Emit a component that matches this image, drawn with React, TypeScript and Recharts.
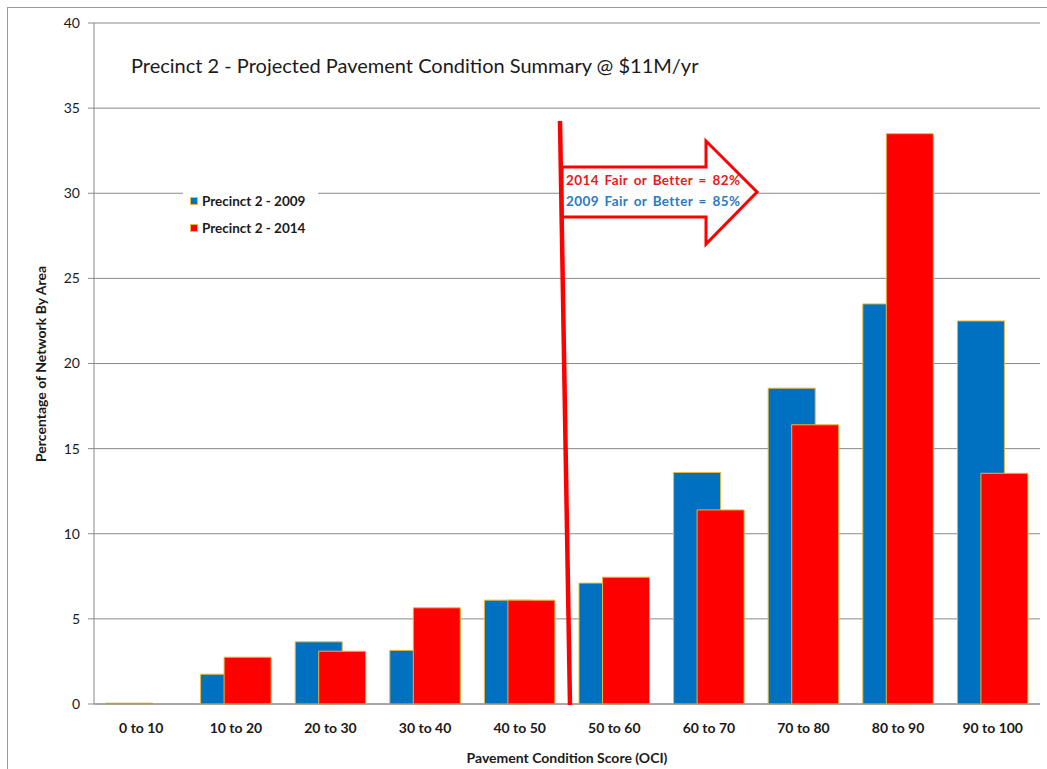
import React from 'react';
import { BarChart, Bar, XAxis, YAxis, CartesianGrid, Legend } from 'recharts';

const categories = ['0 to 10', '10 to 20', '20 to 30', '30 to 40', '40 to 50', '50 to 60', '60 to 70', '70 to 80', '80 to 90', '90 to 100'];
const precinct2009 = [0.05, 1.75, 3.65, 3.15, 6.1, 7.1, 13.6, 18.55, 23.5, 22.5];
const precinct2014 = [0, 2.75, 3.1, 5.65, 6.1, 7.45, 11.4, 16.4, 33.5, 13.55];
const yTicks = [0, 5, 10, 15, 20, 25, 30, 35, 40];
const boundaryTicks = [0, 1, 2, 3, 4, 5, 6, 7, 8, 9, 10];

const seriesNames = { y2009: 'Precinct 2 - 2009', y2014: 'Precinct 2 - 2014' };
const titleText = 'Precinct 2 - Projected Pavement Condition Summary @ $11M/yr';
const note2014 = '2014 Fair or Better = 82%';
const note2009 = '2009 Fair or Better = 85%';

const data = categories.map((c, i) => ({ category: c, y2009: precinct2009[i], y2014: precinct2014[i] }));

const FONT = 'Lato, "Open Sans", sans-serif';
const BLUE = '#0070C0';
const RED = '#FF0000';
const EDGE = '#E8B838';
const AXIS = '#8A8A8A';

const LegendBox = (props: any) => {
  const payload = props.payload || [];
  return (
    <div style={{ background: '#fff', padding: '1px 0 4px 7px', fontFamily: FONT, fontWeight: 700, fontSize: 13.5, color: '#1a1a1a' }}>
      {payload.map((p: any) => (
        <div key={p.value} style={{ display: 'flex', alignItems: 'center', height: 27 }}>
          <span style={{ display: 'inline-block', width: 6, height: 6, background: p.color, border: `1px solid ${EDGE}`, marginRight: 4 }} />
          <span>{p.value}</span>
        </div>
      ))}
    </div>
  );
};

const EmptyTick = () => <g />;

export default function App() {
  return (
    <div style={{ position: 'absolute', left: 0, top: 0, width: 1047, height: 769, background: '#fff' }}>
      <div style={{ position: 'absolute', left: 7, top: 7, width: 1060, height: 780, border: '1px solid #9a9a9a', boxSizing: 'border-box' }} />
      <div style={{ position: 'absolute', left: 0, top: 0 }}>
        <BarChart
          width={1047}
          height={769}
          data={data}
          margin={{ top: 23, right: 7, bottom: 35, left: 34 }}
          barGap={-23.5}
          barSize={47}
        >
          <CartesianGrid vertical={false} stroke={AXIS} strokeWidth={1} />
          <XAxis
            xAxisId="bounds"
            type="number"
            domain={[0, 10]}
            ticks={boundaryTicks}
            height={0}
            axisLine={false}
            tickLine={{ stroke: AXIS }}
            tickSize={5}
            tick={EmptyTick}
            allowDataOverflow
          />
          <XAxis
            dataKey="category"
            height={30}
            axisLine={{ stroke: AXIS }}
            tickLine={false}
            tickSize={6}
            tickMargin={13}
            interval={0}
            tick={{ fontFamily: FONT, fontWeight: 700, fontSize: 14, fill: '#1a1a1a' }}
          />
          <YAxis
            width={60}
            domain={[0, 40]}
            ticks={yTicks}
            axisLine={{ stroke: AXIS }}
            tickLine={{ stroke: AXIS }}
            tickSize={6}
            tickMargin={8}
            tick={{ fontFamily: FONT, fontSize: 14, fill: '#1a1a1a' }}
          />
          <Legend
            layout="vertical"
            align="center"
            verticalAlign="middle"
            content={<LegendBox />}
            wrapperStyle={{ position: 'absolute', left: 183, top: 186, width: 135, height: 56 }}
          />
          <Bar dataKey="y2009" name={seriesNames.y2009} fill={BLUE} stroke={EDGE} strokeWidth={1} isAnimationActive={false} />
          <Bar dataKey="y2014" name={seriesNames.y2014} fill={RED} stroke={EDGE} strokeWidth={1} isAnimationActive={false} />
        </BarChart>
      </div>
      <svg width={1047} height={769} style={{ position: 'absolute', left: 0, top: 0, pointerEvents: 'none' }}>
        <text x={131} y={73} fontFamily={FONT} fontSize={20} fill="#1a1a1a">{titleText}</text>
        <polygon
          points="562,167 706,167 706,141 757,192 706,244 706,217 562,217"
          fill="#fff"
          stroke={RED}
          strokeWidth={3}
          strokeLinejoin="miter"
        />
        <line x1={560} y1={121} x2={570} y2={705} stroke={RED} strokeWidth={4.5} />
        <text x={566} y={185} fontFamily={FONT} fontWeight={700} fontSize={13.5} letterSpacing={0.4} wordSpacing={2} fill="#E81A1A">{note2014}</text>
        <text x={566} y={206} fontFamily={FONT} fontWeight={700} fontSize={13.5} letterSpacing={0.4} wordSpacing={2} fill="#2A7ABF">{note2009}</text>
        <text x={567} y={763} textAnchor="middle" fontFamily={FONT} fontWeight={700} fontSize={14} fill="#1a1a1a">Pavement Condition Score (OCI)</text>
        <text x={46} y={364} textAnchor="middle" transform="rotate(-90 46 364)" fontFamily={FONT} fontWeight={700} fontSize={14} fill="#1a1a1a">Percentage of Network By Area</text>
      </svg>
    </div>
  );
}
